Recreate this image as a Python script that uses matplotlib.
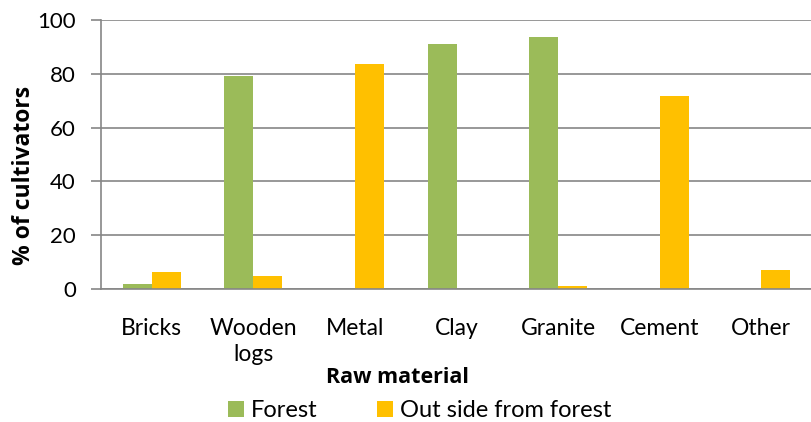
import numpy as np
import matplotlib.pyplot as plt

materials = ["Bricks", "Wooden\nlogs", "Metal", "Clay", "Granite", "Cement", "Other"]
forest = [2.0, 79.1, 0, 91.0, 93.6, 0, 0]
outside = [6.5, 4.7, 83.7, 0, 1.0, 71.7, 7.2]
y_ticks = [0, 20, 40, 60, 80, 100]

plt.rcParams['font.family'] = ['Lato', 'DejaVu Sans']

fig = plt.figure(figsize=(8.12, 4.22), dpi=100)
ax = fig.add_axes([0.1244, 0.315, 0.8756, 0.6376])

x = np.arange(len(materials))
w = 0.285
ax.bar(x - w / 2, forest, w, color="#9BBB59", label="Forest")
ax.bar(x + w / 2, outside, w, color="#FFC000", label="Out side from forest")

ax.set_xlim(-0.5, len(materials) - 0.5)
ax.set_ylim(0, 100)
ax.set_yticks(y_ticks)
ax.set_xticks(x)
ax.set_xticklabels(materials, fontsize=16.5, linespacing=1.3, va="top")
ax.tick_params(axis="y", labelsize=16, length=7, color="#868686", width=1.2, pad=11)
ax.tick_params(axis="x", length=0, pad=21)

ax.grid(axis="y", color="#868686", linewidth=1.2)
ax.set_axisbelow(True)
for side in ["top", "right"]:
    ax.spines[side].set_visible(False)
for side in ["left", "bottom"]:
    ax.spines[side].set_color("#868686")
    ax.spines[side].set_linewidth(1.2)

# axis titles
fig.text(0.030, 0.585, "% of cultivators", fontsize=16.5, fontweight="bold", family="Open Sans",
         rotation=90, ha="center", va="center")
fig.text(0.49, 0.105, "Raw material", fontsize=15.5, fontweight="bold", family="Open Sans",
         ha="center", va="center")

fig.legend(loc="center", bbox_to_anchor=(0.517, 0.027), ncol=2, frameon=False,
           fontsize=17, handlelength=0.68, handleheight=0.68, handletextpad=0.3,
           columnspacing=2.5, borderpad=0)

fig.savefig("out.png", dpi=100)
